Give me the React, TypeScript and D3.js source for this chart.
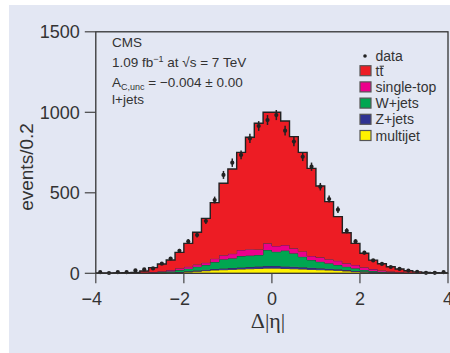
import React from "react";
import * as d3 from "d3";

// Bin edges: 40 bins of width 0.2 from -4 to 4
const binLow: number[] = d3.range(40).map((i) => -4 + i * 0.2);
const binWidth = 0.2;

const ttbar = [1,1,1,2,4,10,27,46,63,99,145,201,275,348,447,526,606,695,784,814,830,770,694,615,544,443,358,274,190,134,88,56,42,30,20,12,7,4,2,2];
const singleTop = [0,0,1,0,1,1,3,4,7,11,12,13,14,21,25,29,38,40,34,41,36,35,31,33,25,27,25,26,21,21,16,12,8,5,3,2,1,0,1,0];
const wJets = [0,0,0,1,1,2,3,5,8,12,17,24,30,43,57,60,71,71,72,99,88,98,84,66,49,41,34,27,21,16,10,7,4,3,2,2,1,1,0,0];
const zJets = [0,0,0,0,0,0,1,1,2,3,4,5,6,7,8,9,10,11,12,14,14,13,12,11,10,9,8,7,6,5,4,3,2,1,1,0,0,0,0,0];
const multijet = [0,0,0,0,0,1,1,2,3,5,8,12,16,20,22,24,26,28,30,32,32,30,28,26,24,22,20,18,14,10,7,4,3,2,1,0,0,0,0,0];
const dataCounts = [7,2,7,7,18,24,30,60,92,140,198,238,325,455,611,687,735,838,915,952,983,886,818,724,662,538,461,395,264,198,128,80,58,39,27,17,9,3,3,7];

const xTicks = [-4, -2, 0, 2, 4];
const yTicks = [0, 500, 1000, 1500];

const seriesKeys = ["multijet", "zjets", "wjets", "singletop", "ttbar"];
const seriesLabels = ["data", "tt", "single-top", "W+jets", "Z+jets", "multijet"];
const seriesColors: Record<string, string> = {
  ttbar: "#ed1c24",
  singletop: "#ec008c",
  wjets: "#00a651",
  zjets: "#2e3192",
  multijet: "#fff200",
};

const W = 450;
const H = 353;

export default function App() {
  const x = d3.scaleLinear().domain([-4, 4]).range([95.8, 448]);
  const y = d3.scaleLinear().domain([0, 1500]).range([273.3, 31.8]);

  const rows = binLow.map((lo, i) => ({
    lo,
    hi: lo + binWidth,
    ttbar: ttbar[i],
    singletop: singleTop[i],
    wjets: wJets[i],
    zjets: zJets[i],
    multijet: multijet[i],
  }));

  const stacked = d3.stack<any>().keys(seriesKeys)(rows);

  type P = { x: number; y0: number; y1: number };
  const stepPoints = (layer: any): P[] => {
    const pts: P[] = [];
    layer.forEach((d: any) => {
      pts.push({ x: d.data.lo, y0: d[0], y1: d[1] });
      pts.push({ x: d.data.hi, y0: d[0], y1: d[1] });
    });
    return pts;
  };

  const area = d3
    .area<P>()
    .x((d) => x(d.x))
    .y0((d) => y(d.y0))
    .y1((d) => y(d.y1));
  const line = d3
    .line<P>()
    .x((d) => x(d.x))
    .y((d) => y(d.y1));

  const textColor = "#333";
  const font = "'Liberation Sans', Arial, sans-serif";

  const legendItems = seriesLabels.slice(1);
  const legendKeys = ["ttbar", "singletop", "wjets", "zjets", "multijet"];

  return (
    <svg
      width={W}
      height={H}
      style={{ position: "absolute", left: 0, top: 0, display: "block" }}
      fontFamily={font}
    >
      <rect x={0} y={0} width={W} height={H} fill="#ffffff" />
      <rect x={9} y={5} width={W - 9} height={H - 5} fill="#e3e7f3" />

      {/* stacked histogram */}
      {stacked.map((layer: any) => {
        const pts = stepPoints(layer);
        return (
          <g key={layer.key}>
            <path d={area(pts) || ""} fill={seriesColors[layer.key]} />
            <path
              d={line(pts) || ""}
              fill="none"
              stroke={layer.key === "ttbar" ? "#222" : "#3a2a30"}
              strokeWidth={layer.key === "ttbar" ? 1.4 : 1}
              opacity={layer.key === "ttbar" ? 1 : 0.85}
            />
          </g>
        );
      })}

      {/* data points */}
      {dataCounts.map((v, i) => {
        const cx = x(binLow[i] + binWidth / 2);
        const err = Math.sqrt(v);
        return (
          <g key={i}>
            <line
              x1={cx}
              x2={cx}
              y1={y(Math.max(0, v - err))}
              y2={y(v + err)}
              stroke="#222"
              strokeWidth={1.5}
            />
            <circle cx={cx} cy={y(v)} r={2.1} fill="#222" />
          </g>
        );
      })}

      {/* frame */}
      <rect
        x={x(-4)}
        y={y(1500)}
        width={x(4) - x(-4)}
        height={y(0) - y(1500)}
        fill="none"
        stroke="#333"
        strokeWidth={1.3}
      />

      {/* y axis ticks */}
      {yTicks.map((t) => (
        <g key={t}>
          <line x1={x(-4) - 11} x2={x(-4)} y1={y(t)} y2={y(t)} stroke="#444" strokeWidth={1.2} />
          <text
            x={x(-4) - 16}
            y={y(t) + 6.5}
            textAnchor="end"
            fontSize={18}
            fill={textColor}
          >
            {t}
          </text>
        </g>
      ))}

      {/* x axis ticks */}
      {xTicks.map((t) => (
        <g key={t}>
          <line x1={x(t)} x2={x(t)} y1={y(0)} y2={y(0) + 10} stroke="#444" strokeWidth={1.2} />
          <text
            x={x(t) - (t < 0 ? 4 : 0)}
            y={305}
            textAnchor="middle"
            fontSize={18}
            fill={textColor}
          >
            {t < 0 ? "\u2212" + Math.abs(t) : String(t)}
          </text>
        </g>
      ))}

      {/* axis titles */}
      <text
        x={268}
        y={328}
        textAnchor="middle"
        fontSize={22}
        fontFamily="'Liberation Serif', 'DejaVu Serif', serif"
        fill={textColor}
      >
        Δ|η|
      </text>
      <text
        transform="translate(33,167) rotate(-90)"
        textAnchor="middle"
        fontSize={19}
        fill={textColor}
      >
        events/0.2
      </text>

      {/* annotation */}
      <g fontSize={13.5} fill={textColor}>
        <text x={112} y={47}>CMS</text>
        <text x={112} y={67}>
          1.09 fb
          <tspan dy={-5} fontSize={9}>−1</tspan>
          <tspan dy={5}> at √s = 7 TeV</tspan>
        </text>
        <text x={112} y={87}>
          A<tspan dy={3} fontSize={9}>C,unc</tspan>
          <tspan dy={-3}> = −0.004 ± 0.00</tspan>
        </text>
        <text x={112} y={104}>l+jets</text>
      </g>

      {/* legend */}
      <g fontSize={14} fill={textColor}>
        <circle cx={365} cy={56} r={1.8} fill="#222" />
        <text x={375.5} y={61}>{seriesLabels[0]}</text>
        {legendItems.map((lab, i) => {
          const yy = 65.7 + i * 16.2;
          return (
            <g key={lab}>
              <rect
                x={360}
                y={yy}
                width={11}
                height={10}
                fill={seriesColors[legendKeys[i]]}
                stroke="#555"
                strokeWidth={1.2}
              />
              <text x={375.5} y={yy + 10}>{lab}</text>
              {i === 0 && (
                <line x1={379.6} x2={384} y1={yy + 0.5} y2={yy + 0.5} stroke={textColor} strokeWidth={1} />
              )}
            </g>
          );
        })}
      </g>
    </svg>
  );
}
